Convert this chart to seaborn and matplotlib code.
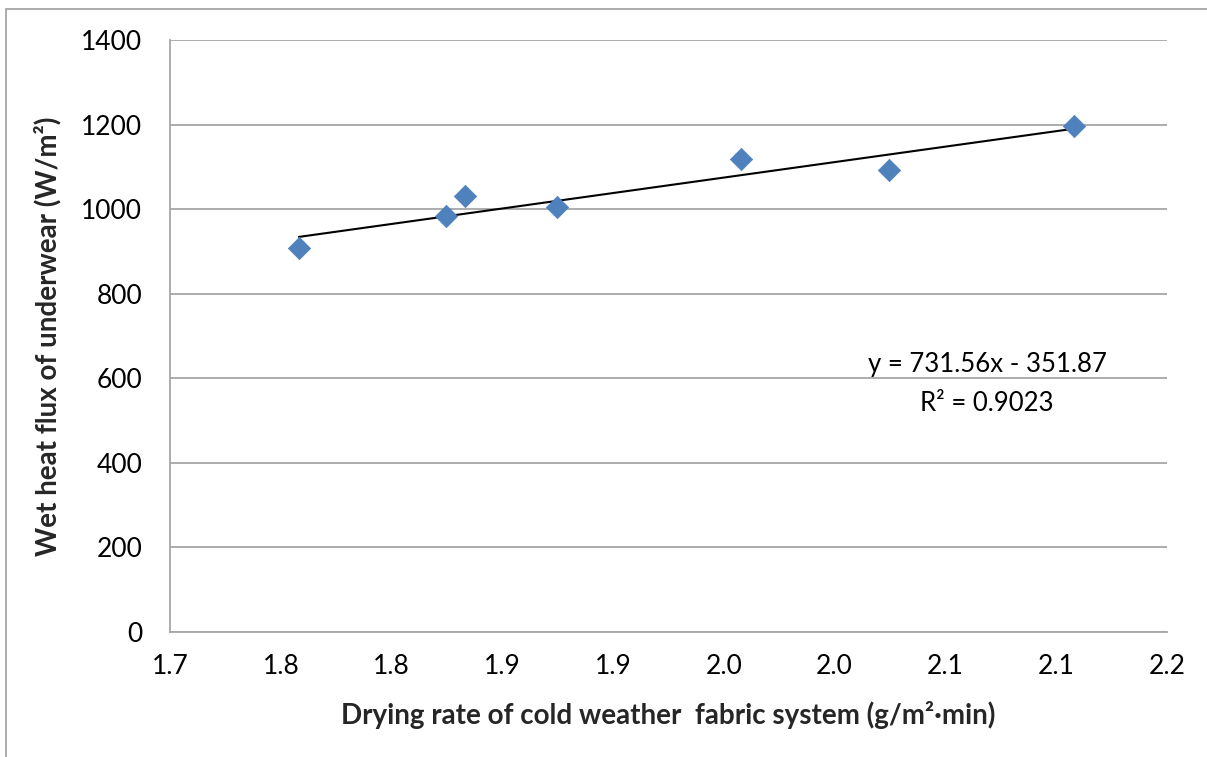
import numpy as np
import pandas as pd
import matplotlib
matplotlib.use("Agg")
import matplotlib.pyplot as plt
import seaborn as sns
from matplotlib.ticker import FixedLocator, FixedFormatter
from matplotlib.patches import Rectangle

# Drying rate of the fabric system vs. wet heat flux of underwear
drying_rate = [1.7582, 1.8244, 1.8330, 1.8746, 1.9579, 2.0246, 2.1080]
wet_heat_flux = [907, 984, 1030, 1006, 1118, 1092, 1197]

# Linear trendline reported on the chart
slope = 731.56
intercept = -351.87
r_squared = 0.9023

x_ticks = [1.70, 1.75, 1.80, 1.85, 1.90, 1.95, 2.00, 2.05, 2.10, 2.15]
x_tick_labels = ["1.7", "1.8", "1.8", "1.9", "1.9", "2.0", "2.0", "2.1", "2.1", "2.2"]
y_ticks = [0, 200, 400, 600, 800, 1000, 1200, 1400]

df = pd.DataFrame({"rate": drying_rate, "flux": wet_heat_flux})

sns.set_theme(style="white")
plt.rcParams["font.family"] = ["Lato", "DejaVu Sans"]

W, H = 1207, 757
fig = plt.figure(figsize=(W / 100, H / 100), dpi=100)
ax = fig.add_axes([170 / W, 1 - 632 / H, (1167 - 170) / W, (632 - 40) / H])

grid_color = "#a6a6a6"
ax.yaxis.grid(True, color=grid_color, linewidth=1.3)
ax.set_axisbelow(True)

# Trendline from the stated equation
xs = np.array([min(drying_rate), max(drying_rate)])
ax.plot(xs, slope * xs + intercept, color="black", linewidth=1.5, zorder=2)

sns.scatterplot(data=df, x="rate", y="flux", marker="D", s=130,
                color="#4f81bd", edgecolor="#4f81bd", linewidth=0.5,
                ax=ax, zorder=3)

ax.set_xlim(1.70, 2.15)
ax.set_ylim(0, 1400)
ax.xaxis.set_major_locator(FixedLocator(x_ticks))
ax.xaxis.set_major_formatter(FixedFormatter(x_tick_labels))
ax.yaxis.set_major_locator(FixedLocator(y_ticks))

for side in ["top", "right"]:
    ax.spines[side].set_visible(False)
for side in ["left", "bottom"]:
    ax.spines[side].set_color(grid_color)
    ax.spines[side].set_linewidth(1.3)

ax.tick_params(axis="both", which="major", direction="out", length=7,
               width=1.3, color=grid_color, labelsize=19, labelcolor="black")
ax.tick_params(axis="y", pad=13)
ax.tick_params(axis="x", pad=9)

ax.set_xlabel("Drying rate of cold weather  fabric system (g/m²·min)",
              fontsize=20, fontweight="bold", labelpad=16)
ax.set_ylabel("Wet heat flux of underwear (W/m²)",
              fontsize=20, fontweight="bold", labelpad=14)

eq_x = 1.70 + (987 - 170) / ((1167 - 170) / 0.45)
ax.text(eq_x, 633, f"y = {slope}x - {abs(intercept)}", ha="center", va="center",
        fontsize=18.5, color="black")
ax.text(eq_x, 540, f"R² = {r_squared}", ha="center", va="center",
        fontsize=18.5, color="black")

# Outer chart frame
fig.patches.append(Rectangle((6 / W, -0.1), 1.2, 1 - 9 / H + 0.1,
                             transform=fig.transFigure, fill=False,
                             edgecolor=grid_color, linewidth=1.3))

fig.savefig("out.png", dpi=100)
